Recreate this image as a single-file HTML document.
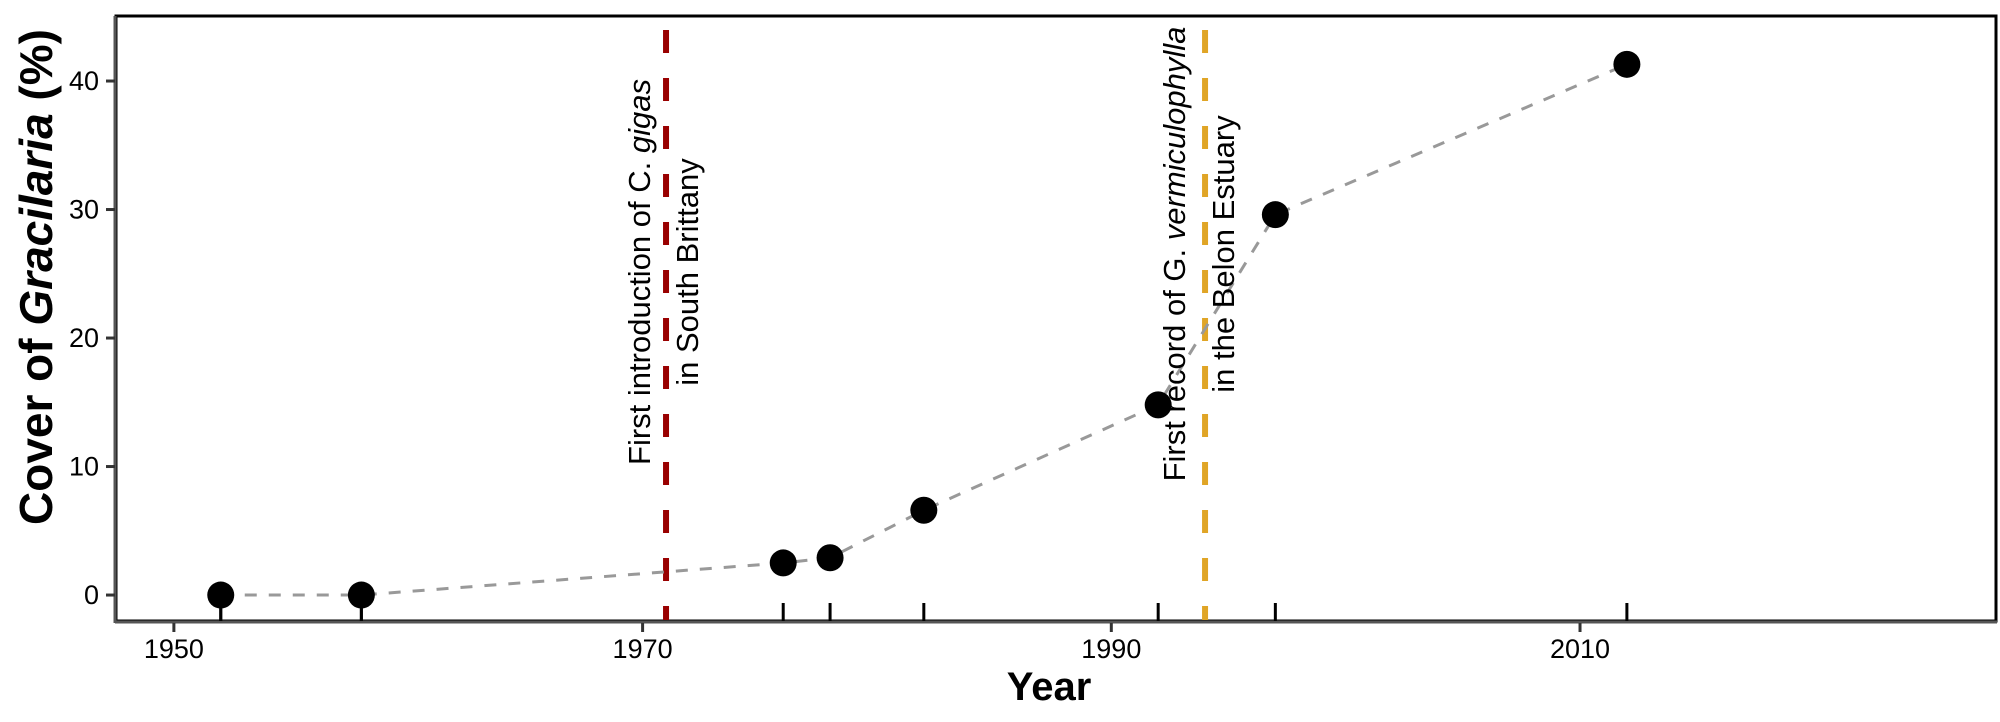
<!DOCTYPE html>
<html><head><meta charset="utf-8"><style>
html,body{margin:0;padding:0;background:#fff;}
svg{display:block;font-family:"Liberation Sans",Arial,sans-serif;}
</style></head><body>
<svg id="chart" width="2000" height="722" viewBox="0 0 2000 722" xmlns="http://www.w3.org/2000/svg">
<g id="plot"></g>
</svg>
<script>
const years = [1952, 1958, 1976, 1978, 1982, 1992, 1997, 2012];
const cover = [0, 0, 2.5, 2.9, 6.6, 14.8, 29.6, 41.3];
const xTicks = [1950, 1970, 1990, 2010];
const yTicks = [0, 10, 20, 30, 40];
const eventYears = [1971, 1994];

const L=116, R=1996, T=16, B=621;
const xMin=1947.53, xMax=2027.75, yMin=-2.02, yMax=45.06;
const sx = v => L + (v - xMin) / (xMax - xMin) * (R - L);
const sy = v => B - (v - yMin) / (yMax - yMin) * (B - T);
const NS="http://www.w3.org/2000/svg";
const g=document.getElementById('plot');
function mk(tag, attrs, parent){const e=document.createElementNS(NS,tag);for(const k in attrs)e.setAttribute(k,attrs[k]);(parent||g).appendChild(e);return e;}

const frame=mk('rect',{x:L,y:T,width:R-L,height:B-T,fill:'none',stroke:'#000','stroke-width':3});


const xa=mk('line',{x1:L-1,y1:B+1,x2:R+1,y2:B+1,stroke:'#555','stroke-width':3});


const ya=mk('line',{x1:L-1,y1:T,x2:L-1,y2:B+2,stroke:'#555','stroke-width':3});



yTicks.forEach(v=>{
  const t=mk('line',{x1:L-10,y1:sy(v),x2:L-1,y2:sy(v),stroke:'#333','stroke-width':3});
  
  
  const tx=mk('text',{x:L-17,y:sy(v)+9,'text-anchor':'end','font-size':27,fill:'#000'});
  tx.textContent=v;
  
  
});
xTicks.forEach(v=>{
  const t=mk('line',{x1:sx(v),y1:B+2,x2:sx(v),y2:B+11,stroke:'#333','stroke-width':3});
  
  
  const tx=mk('text',{x:sx(v),y:658,'text-anchor':'middle','font-size':27,fill:'#000'});
  tx.textContent=v;
  
  
});

const evColors=['#990000','#E0A526'];
eventYears.forEach((v,i)=>{
  const l=mk('line',{x1:sx(v),y1:30,x2:sx(v),y2:B-1,stroke:evColors[i],'stroke-width':6,'stroke-dasharray':'23 25'});
  
  
});

years.forEach(v=>{
  const r=mk('line',{x1:sx(v),y1:B-18,x2:sx(v),y2:B,stroke:'#000','stroke-width':3});
  
  
});

years.forEach((v,i)=>{
  if(cover[i]===0){
    const s=mk('line',{x1:sx(v),y1:sy(cover[i]),x2:sx(v),y2:B,stroke:'#000','stroke-width':3});
    
    
  }
});

const pts=years.map((v,i)=>sx(v)+','+sy(cover[i])).join(' ');
const pl=mk('polyline',{points:pts,fill:'none',stroke:'#999','stroke-width':3,'stroke-dasharray':'12 12'});



years.forEach((v,i)=>{
  const c=mk('circle',{cx:sx(v),cy:sy(cover[i]),r:13.5,fill:'#000'});
  
  
});

function anno(x1,x2,cy,l1,l2,name){
  const a=mk('text',{transform:`translate(${x1},${cy}) rotate(-90)`,'text-anchor':'middle','font-size':31,fill:'#000'});
  a.innerHTML=l1;
  
  
  const b=mk('text',{transform:`translate(${x2},${cy}) rotate(-90)`,'text-anchor':'middle','font-size':31,fill:'#000'});
  b.textContent=l2;
  
  
}
anno(650,698,272,'First introduction of C. <tspan font-style="italic">gigas</tspan>','in South Brittany','c-gigas-annotation');
anno(1185,1234,254,'First record of G. <tspan font-style="italic">vermiculophylla</tspan>','in the Belon Estuary','g-vermiculophylla-annotation');

const xt=mk('text',{x:1049,y:700,'text-anchor':'middle','font-size':40,'font-weight':'bold',fill:'#000'});
xt.textContent='Year';


const yt=mk('text',{transform:'translate(52,277) rotate(-90)','text-anchor':'middle','font-size':46,'font-weight':'bold',fill:'#000'});
yt.innerHTML='Cover of <tspan font-style="italic">Gracilaria</tspan> (%)';


</script>
</body></html>
